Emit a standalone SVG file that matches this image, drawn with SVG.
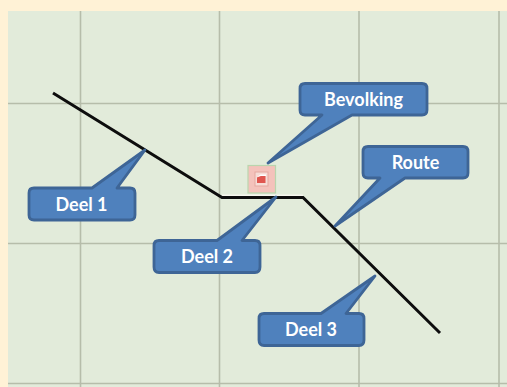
<svg xmlns="http://www.w3.org/2000/svg" width="507" height="387" viewBox="0 0 507 387">
<style>
.grid{stroke:#b6bdaa;stroke-width:1.600;fill:none}
.callout{fill:#4f81bd;stroke:#3e6596;stroke-width:2.800;stroke-linejoin:round}
.label{font-family:Lato,"Liberation Sans",sans-serif;font-size:18px;font-weight:700;fill:#fff;text-anchor:middle}
</style>
<rect width="507" height="387" fill="#fff2d6"/>
<rect x="8" y="11" width="499" height="376" fill="#e2ebda"/>
<g id="grid" class="grid">
<path d="M80.500 11V387M219.500 11V387M359 11V387M499 11V387"/>
<path d="M8 103.500H507M8 243.500H507M8 383.500H507"/>
</g>
<g id="connectors">
<path d="M222 195.500H303" stroke="#f6f6ee" stroke-width="2" fill="none"/>
<path d="M53 93L222 197.500H303L440 333" fill="none" stroke="#0d0d0d" stroke-width="3" stroke-linejoin="miter"/>
</g>
<g id="population-icon">
<rect x="248" y="165.500" width="27.500" height="27.500" fill="#f4c2bb" stroke="#b9d5ae" stroke-width="1.200"/>
<rect x="255" y="172" width="13" height="14" fill="#f7dcd6" stroke="#e3a8a0" stroke-width="1"/>
<path d="M257 183V177.500L261 175.500H265.500V183Z" fill="#e0564f"/>
<path d="M257 177L260.500 174.500H266V176H261Z" fill="#fff"/>
</g>
<g id="bevolking">
<path class="callout" d="M305 83.500H422Q427 83.500 427 88.500V110Q427 115 422 115H352L268 163L322 115H305Q300 115 300 110V88.500Q300 83.500 305 83.500Z"/>
<text class="label" x="363.500" y="105.500">Bevolking</text>
</g>
<g id="route">
<path class="callout" d="M368 146.500H463Q468 146.500 468 151.500V173Q468 178 463 178H405L335 226L380 178H368Q363 178 363 173V151.500Q363 146.500 368 146.500Z"/>
<text class="label" x="415.500" y="168.500">Route</text>
</g>
<g id="deel-1">
<path class="callout" d="M34 188H92L145 150L117 188H130Q135 188 135 193V215Q135 220 130 220H34Q29 220 29 215V193Q29 188 34 188Z"/>
<text class="label" x="81.500" y="210.500">Deel 1</text>
</g>
<g id="deel-2">
<path class="callout" d="M159 240.500H217L276 197L242 240.500H255Q260 240.500 260 245.500V267Q260 272.500 255 272.500H159Q154 272.500 154 267V245.500Q154 240.500 159 240.500Z"/>
<text class="label" x="207" y="262.500">Deel 2</text>
</g>
<g id="deel-3">
<path class="callout" d="M264 313.500H321L375 276L346 313.500H359Q364 313.500 364 318.500V340Q364 345.500 359 345.500H264Q259 345.500 259 340V318.500Q259 313.500 264 313.500Z"/>
<text class="label" x="311" y="336">Deel 3</text>
</g>
</svg>
